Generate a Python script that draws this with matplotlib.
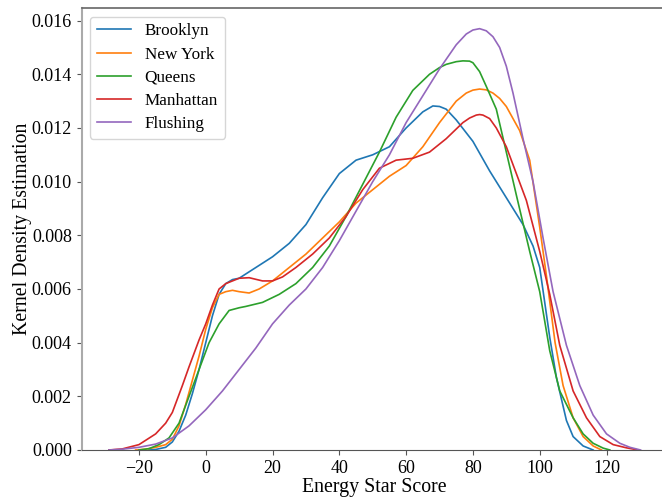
import numpy as np
import matplotlib
matplotlib.use('Agg')
import matplotlib.pyplot as plt

plt.rcParams['font.family'] = ['Liberation Serif', 'DejaVu Serif']
plt.rcParams['mathtext.fontset'] = 'stix'

# KDE curves (x = Energy Star Score, y = density)
brooklyn_x = [-17, -15, -12, -10, -8, -6, -4, -2, 0, 2, 4, 6, 8, 10, 15, 20, 25, 30, 35,
              40, 45, 50, 55, 60, 65, 68, 70, 72, 75, 80, 85, 90, 95, 98, 100, 103, 105,
              108, 110, 113, 116]
brooklyn_y = [0.0, 0.00002, 0.0001, 0.0003, 0.0007, 0.0013, 0.0021, 0.0030, 0.0040, 0.0050,
              0.0058, 0.0062, 0.00635, 0.0064, 0.0068, 0.0072, 0.0077, 0.0084, 0.0094,
              0.0103, 0.0108, 0.0110, 0.0113, 0.0120, 0.0126, 0.01282, 0.0128, 0.0127,
              0.0123, 0.0115, 0.0104, 0.0094, 0.0084, 0.0076, 0.0068, 0.0042, 0.0027,
              0.0011, 0.0005, 0.00015, 0.0]

newyork_x = [-21, -18, -15, -12, -10, -8, -6, -4, -2, 0, 2, 4, 6, 8, 10, 13, 16, 20, 25,
             30, 35, 40, 45, 50, 55, 60, 65, 70, 75, 78, 80, 82, 84, 86, 88, 90, 94, 97,
             100, 102, 104.6, 107, 110, 113, 116, 118.5]
newyork_y = [0.0, 0.00003, 0.0001, 0.0002, 0.0004, 0.0009, 0.0017, 0.0026, 0.0035, 0.0045,
             0.0053, 0.0058, 0.0059, 0.00595, 0.0059, 0.00585, 0.0060, 0.0063, 0.0068,
             0.0073, 0.0079, 0.0085, 0.0092, 0.0097, 0.0102, 0.0106, 0.0113, 0.0122,
             0.0130, 0.0133, 0.01341, 0.01345, 0.01342, 0.0133, 0.0131, 0.0128, 0.0119,
             0.0108, 0.0083, 0.0065, 0.0040, 0.0024, 0.0012, 0.0005, 0.00015, 0.0]

queens_x = [-20, -17, -14, -11, -8, -5, -2, 1, 4, 7, 10, 12, 17, 22, 27, 32, 37, 42, 47,
            52, 57, 62, 67, 70, 72, 75, 77, 79, 80, 82, 84, 87, 90, 93, 97, 100, 103, 106,
            110, 113, 116, 119, 121]
queens_y = [0.0, 0.00005, 0.0002, 0.00045, 0.0010, 0.0020, 0.0030, 0.0040, 0.0047, 0.0052,
            0.0053, 0.00535, 0.0055, 0.0058, 0.0062, 0.0068, 0.0076, 0.0087, 0.0099,
            0.0111, 0.0124, 0.0134, 0.0140, 0.01425, 0.01437, 0.01447, 0.0145, 0.01449,
            0.01443, 0.0141, 0.01355, 0.0127, 0.0111, 0.0095, 0.0074, 0.0059, 0.0037,
            0.0022, 0.0012, 0.0006, 0.00025, 0.00007, 0.0]

manhattan_x = [-29, -25, -20, -15, -12, -10, -7, -5, -2, 0, 2, 4, 6, 8, 10, 13, 17, 20,
               23, 27, 32, 37, 42, 47, 52, 57, 62, 67, 72, 77, 79, 81, 82, 83, 85, 87, 90,
               93, 96, 100, 103, 106, 110, 114, 118, 122, 126, 129.5]
manhattan_y = [0.0, 0.00004, 0.0002, 0.0006, 0.0010, 0.0014, 0.0024, 0.0031, 0.0041, 0.0047,
               0.0054, 0.0060, 0.0062, 0.0063, 0.0064, 0.00642, 0.0063, 0.0063, 0.00645,
               0.0068, 0.0073, 0.0079, 0.0087, 0.0097, 0.0105, 0.0108, 0.01087, 0.0111,
               0.0116, 0.0122, 0.01237, 0.01248, 0.0125, 0.01248, 0.01235, 0.0120, 0.0113,
               0.0103, 0.0093, 0.0074, 0.0058, 0.0039, 0.0022, 0.0012, 0.0005, 0.0002,
               0.00008, 0.0]

flushing_x = [-29, -25, -20, -15, -10, -5, 0, 5, 10, 15, 20, 25, 30, 35, 40, 45, 50, 55,
              60, 65, 70, 75, 78, 80, 82, 84, 86, 88, 90, 92, 95, 98, 101, 104, 108, 112,
              116, 120, 124, 127, 130.2]
flushing_y = [0.0, 0.00003, 0.0001, 0.00022, 0.00045, 0.0009, 0.0015, 0.0022, 0.0030,
              0.0038, 0.0047, 0.0054, 0.0060, 0.0068, 0.0078, 0.0089, 0.0100, 0.0110,
              0.0122, 0.0132, 0.0142, 0.0151, 0.0155, 0.01565, 0.0157, 0.01562, 0.0154,
              0.0150, 0.0143, 0.0133, 0.0116, 0.0100, 0.0079, 0.0059, 0.0039, 0.0024,
              0.0013, 0.0006, 0.00025, 0.0001, 0.0]

series = [
    ('Brooklyn', brooklyn_x, brooklyn_y),
    ('New York', newyork_x, newyork_y),
    ('Queens', queens_x, queens_y),
    ('Manhattan', manhattan_x, manhattan_y),
    ('Flushing', flushing_x, flushing_y),
]

fig = plt.figure(figsize=(6.62, 4.97), dpi=100)
ax = fig.add_axes([81.5 / 662, 47 / 497, 585.8 / 662, 442 / 497])

for name, xs, ys in series:
    ax.plot(xs, ys, lw=1.2, label=name)

ax.set_xlim(-37.2, 138.2)
ax.set_ylim(0, 0.01647)
ax.set_xticks([-20, 0, 20, 40, 60, 80, 100, 120])
ax.set_yticks(np.arange(0, 0.0161, 0.002))
ax.yaxis.set_major_formatter(plt.FormatStrFormatter('%.3f'))
ax.tick_params(labelsize=13, color='#555555', length=3.5)

ax.set_xlabel('Energy Star Score', fontsize=14.3, labelpad=1)
ax.set_ylabel('Kernel Density Estimation', fontsize=14.3, labelpad=0)

ax.spines['left'].set_color('#aaaaaa')
ax.spines['left'].set_linewidth(1.5)
ax.spines['bottom'].set_color('#555555')
ax.spines['top'].set_color('#666666')
ax.spines['top'].set_linewidth(1.2)

ax.legend(loc='upper left', fontsize=12.3, labelspacing=0.42)

fig.savefig('out.png', dpi=100)
